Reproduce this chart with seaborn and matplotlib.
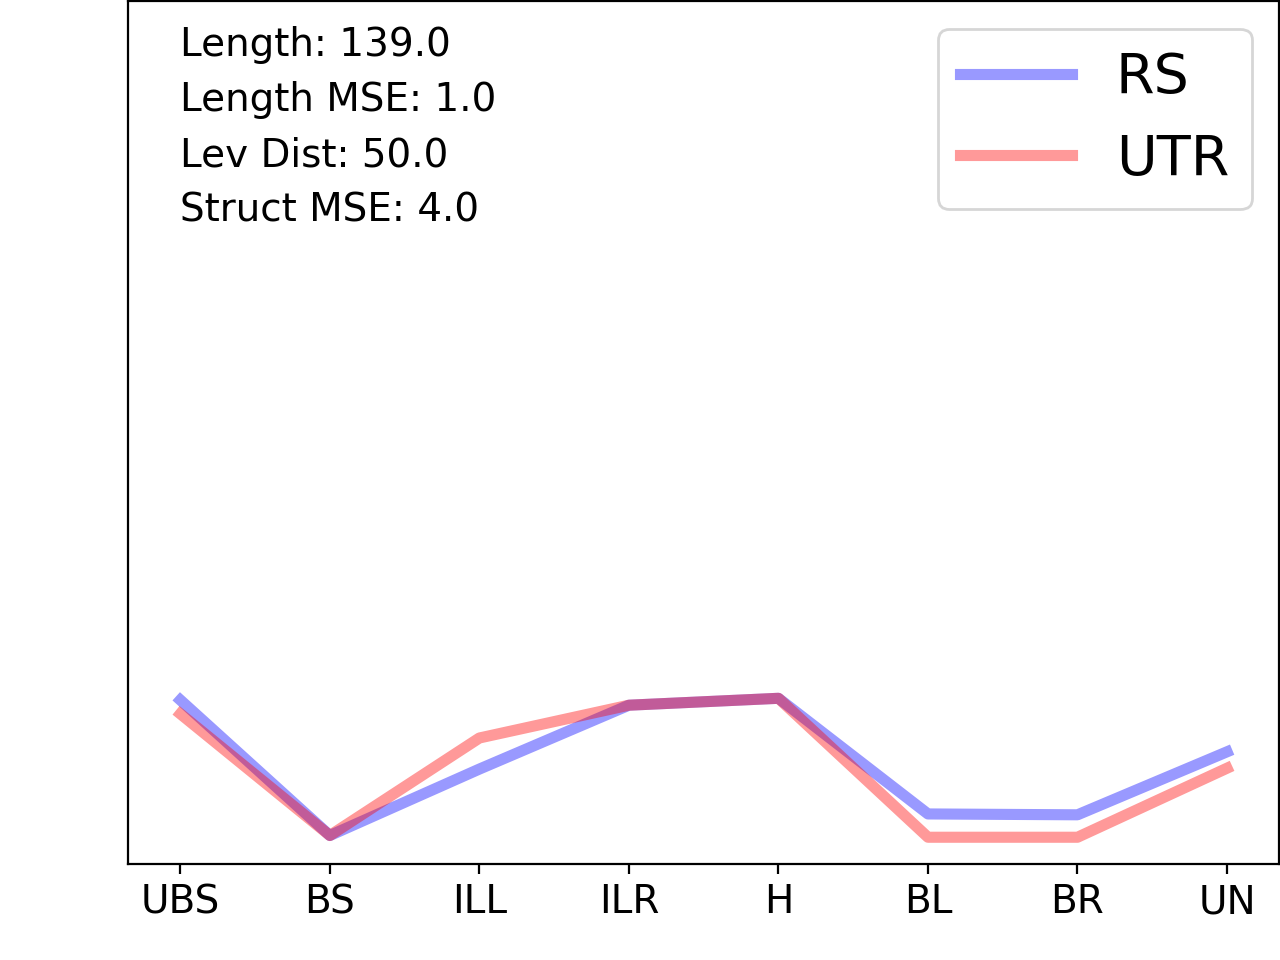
import numpy as np
import matplotlib
matplotlib.use("Agg")
import matplotlib.pyplot as plt
import seaborn as sns

# regions along the x axis
regions = ["UBS", "BS", "ILL", "ILR", "H", "BL", "BR", "UN"]

# series values (share of the y range in %)
rs_values = [19.0, 3.3, 11.0, 18.4, 19.2, 5.8, 5.7, 13.0]
utr_values = [17.4, 3.3, 14.6, 18.4, 19.2, 3.1, 3.1, 11.1]

stats_lines = [
    "Length: 139.0",
    "Length MSE: 1.0",
    "Lev Dist: 50.0",
    "Struct MSE: 4.0",
]

fig = plt.figure(figsize=(6.4, 4.8), dpi=200)
ax = fig.add_axes([0.1, 0.1, 0.8995, 0.899])

x = np.arange(len(regions))
sns.lineplot(x=x, y=rs_values, ax=ax, color="blue", alpha=0.4, linewidth=4, label="RS")
sns.lineplot(x=x, y=utr_values, ax=ax, color="red", alpha=0.4, linewidth=4, label="UTR")

ax.set_ylim(0, 100)
ax.set_yticks([])
ax.set_xticks(x)
ax.set_xticklabels(regions, fontsize=14)

ax.text(0.045, 0.971, "\n".join(stats_lines), transform=ax.transAxes,
        ha="left", va="top", fontsize=14, linespacing=1.57)

ax.legend(loc="upper right", fontsize=20)

plt.savefig("out.png", dpi=200)
plt.close()
